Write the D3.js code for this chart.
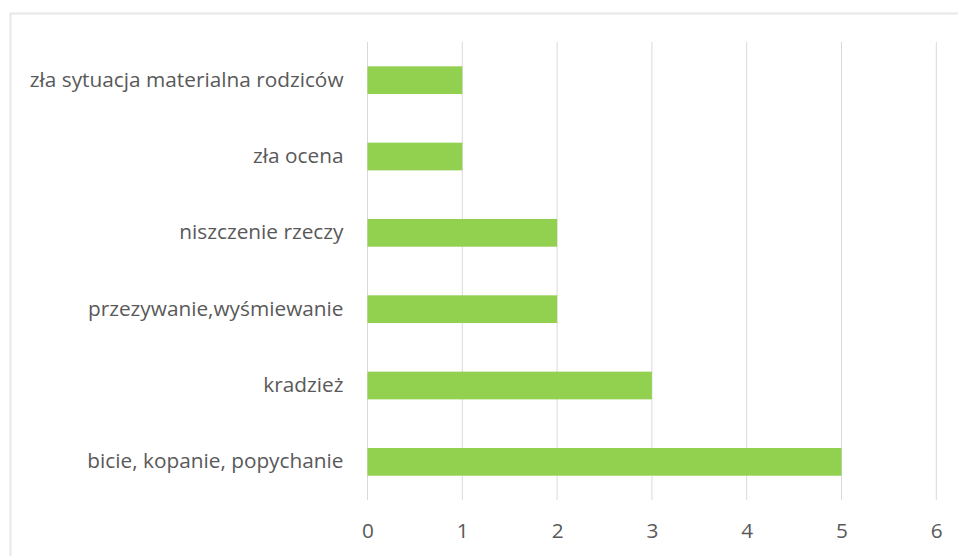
<!DOCTYPE html>
<html>
<head>
<meta charset="utf-8">
<script src="https://cdn.jsdelivr.net/npm/d3@7"></script>
<style>
  body { margin: 0; background: #fff; }
  #my_dataviz { width: 958px; height: 556px; }
</style>
</head>
<body>
<div id="my_dataviz"></div>
<script>
// Data, top to bottom as shown
const categories = [
  "zła sytuacja materialna rodziców",
  "zła ocena",
  "niszczenie rzeczy",
  "przezywanie,wyśmiewanie",
  "kradzież",
  "bicie, kopanie, popychanie"
];
const values = [1, 1, 2, 2, 3, 5];
const xTicks = [0, 1, 2, 3, 4, 5, 6];

const W = 958, H = 556;
const plot = { left: 367.5, right: 936.3, top: 42, bottom: 500 };

const svg = d3.select("#my_dataviz")
  .append("svg")
    .attr("width", W)
    .attr("height", H);

// Chart frame
svg.append("rect")
  .attr("x", 10.5).attr("y", 13.5)
  .attr("width", 1000).attr("height", 600)
  .attr("fill", "#fff")
  .attr("stroke", "#e8e8e8")
  .attr("stroke-width", 2);

const x = d3.scaleLinear()
  .domain([0, 6])
  .range([plot.left, plot.right]);

const y = d3.scaleBand()
  .domain(categories)
  .range([plot.top, plot.bottom])
  .paddingInner(0.637)
  .paddingOuter(0.3185);

// Gridlines
svg.append("g")
  .selectAll("line")
  .data(xTicks)
  .join("line")
    .attr("x1", d => x(d)).attr("x2", d => x(d))
    .attr("y1", plot.top).attr("y2", plot.bottom)
    .attr("stroke", "#d9d9d9")
    .attr("stroke-width", 1);

// Bars
svg.append("g")
  .selectAll("rect")
  .data(categories.map((c, i) => ({ c: c, v: values[i] })))
  .join("rect")
    .attr("x", x(0))
    .attr("y", d => y(d.c))
    .attr("width", d => x(d.v) - x(0))
    .attr("height", y.bandwidth())
    .attr("fill", "#92d050");

const fontSize = "20.8px";

// X axis labels
const xAxis = svg.append("g")
  .attr("transform", `translate(0, ${plot.bottom})`)
  .call(d3.axisBottom(x).tickValues(xTicks).tickFormat(d3.format("d")).tickSize(0).tickPadding(23));
xAxis.select(".domain").remove();
xAxis.selectAll("text")
  .attr("fill", "#595959")
  .style("font-family", "'Open Sans', sans-serif")
  .style("font-size", fontSize);

// Y axis labels
const yAxis = svg.append("g")
  .attr("transform", `translate(${plot.left}, 0)`)
  .call(d3.axisLeft(y).tickSize(0).tickPadding(24));
yAxis.select(".domain").remove();
yAxis.selectAll("text")
  .attr("fill", "#595959")
  .style("font-family", "'Open Sans', sans-serif")
  .style("font-size", fontSize);
</script>
</body>
</html>
